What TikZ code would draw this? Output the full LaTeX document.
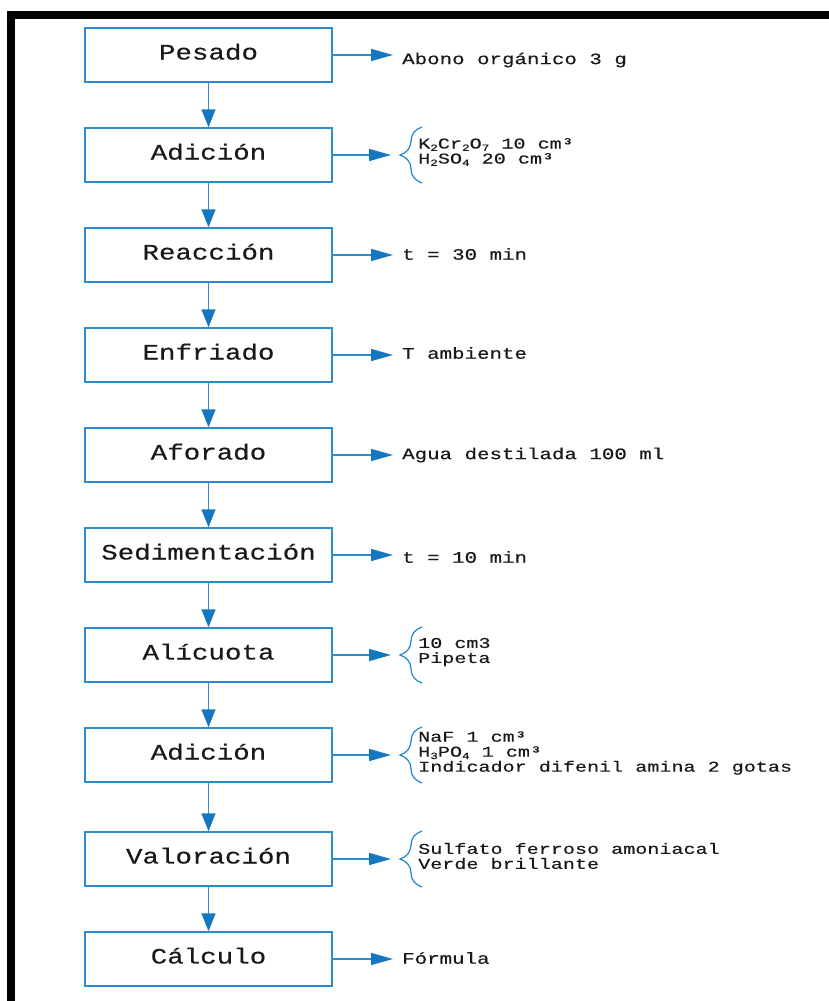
\documentclass[tikz,border=0pt]{standalone}
\usepackage{fontspec}
\usetikzlibrary{arrows.meta,decorations.pathreplacing}
\newfontfamily\boxfont[FakeStretch=1.25,FakeBold=0.35]{Liberation Mono}
\newfontfamily\notefont[FakeStretch=1.3,FakeBold=0.35]{Liberation Mono}
\newfontfamily\listfont[FakeStretch=1.34,FakeBold=0.3]{Liberation Mono}
\definecolor{flowline}{RGB}{45,140,205}
\definecolor{flowhead}{RGB}{20,120,190}
\newcommand\chemsub[1]{\raisebox{-0.3ex}{\fontsize{9.5}{9.5}\selectfont #1}}

\begin{document}
\begin{tikzpicture}[x=1pt,y=1pt,
  stepbox/.style={draw=flowline, line width=1.5pt, minimum width=247pt,
    minimum height=54pt, inner sep=0pt, text=black!90,
    text height=15pt, text depth=6pt,
    font=\boxfont\fontsize{22}{22}\selectfont},
  note/.style={anchor=west, inner sep=0pt, text=black!90,
    font=\notefont\fontsize{16}{16}\selectfont},
  multinote/.style={anchor=west, inner sep=0pt, align=left, text=black!90,
    font=\listfont\fontsize{15}{15}\selectfont},
  downarrow/.style={draw=flowline, line width=1.5pt,
    -{Triangle[length=18pt,width=14pt,color=flowhead]}},
  sidearrow/.style={draw=flowline, line width=1.5pt,
    -{Triangle[length=22pt,width=12pt,color=flowhead]}},
  curly/.style={draw=flowline, line width=1.3pt, decorate,
    decoration={brace, amplitude=22pt}}]

\useasboundingbox (0,0) rectangle (829,-1001);

% frame
\fill[black] (7,-11) rectangle (829,-19);
\fill[black] (7,-11) rectangle (15,-1001);

% process steps
\node[stepbox] (b1)  at (208.5,-55)  {Pesado};
\node[stepbox] (b2)  at (208.5,-155) {Adición};
\node[stepbox] (b3)  at (208.5,-255) {Reacción};
\node[stepbox] (b4)  at (208.5,-355) {Enfriado};
\node[stepbox] (b5)  at (208.5,-455) {Aforado};
\node[stepbox] (b6)  at (208.5,-555) {Sedimentación};
\node[stepbox] (b7)  at (208.5,-655) {Alícuota};
\node[stepbox] (b8)  at (208.5,-755) {Adición};
\node[stepbox] (b9)  at (208.5,-859) {Valoración};
\node[stepbox] (b10) at (208.5,-959) {Cálculo};

\foreach \a/\b in {b1/b2,b2/b3,b3/b4,b4/b5,b5/b6,b6/b7,b7/b8,b8/b9,b9/b10}
  \draw[downarrow] (\a.south) -- (\b.north);

% single-line notes
\node[note] (t1)  at (402,-60)  {Abono orgánico 3 g};
\node[note] (t3)  at (402,-254) {t = 30 min};
\node[note] (t4)  at (402,-353) {T ambiente};
\node[note] (t5)  at (402,-455) {Agua destilada 100 ml};
\node[note] (t6)  at (402,-557) {t = 10 min};
\node[note] (t10) at (402,-958) {Fórmula};

\draw[sidearrow, shorten >=9pt] (b1.east)  -- (b1.east -| t1.west);
\draw[sidearrow, shorten >=9pt] (b3.east)  -- (b3.east -| t3.west);
\draw[sidearrow, shorten >=9pt] (b4.east)  -- (b4.east -| t4.west);
\draw[sidearrow, shorten >=9pt] (b5.east)  -- (b5.east -| t5.west);
\draw[sidearrow, shorten >=9pt] (b6.east)  -- (b6.east -| t6.west);
\draw[sidearrow, shorten >=9pt] (b10.east) -- (b10.east -| t10.west);

% braced notes
\node[multinote] (t2) at (418,-152) {K\chemsub{2}Cr\chemsub{2}O\chemsub{7} 10 cm³\\H\chemsub{2}SO\chemsub{4} 20 cm³};
\node[multinote] (t7) at (418,-652) {10 cm3\\Pipeta};
\node[multinote] (t8) at (418,-753) {NaF 1 cm³\\H\chemsub{3}PO\chemsub{4} 1 cm³\\Indicador difenil amina 2 gotas};
\node[multinote] (t9) at (418,-856) {Sulfato ferroso amoniacal\\Verde brillante};

\foreach \n/\c in {2/155,7/655,8/755,9/859}{
  \coordinate (tip\n) at (391,-\c);
  \coordinate (bt\n) at (422,-\c+28);
  \coordinate (bb\n) at (422,-\c-28);
  \draw[sidearrow] (b\n.east) -- (tip\n);
  \draw[curly] (bb\n) -- (bt\n);
}
\end{tikzpicture}
\end{document}
